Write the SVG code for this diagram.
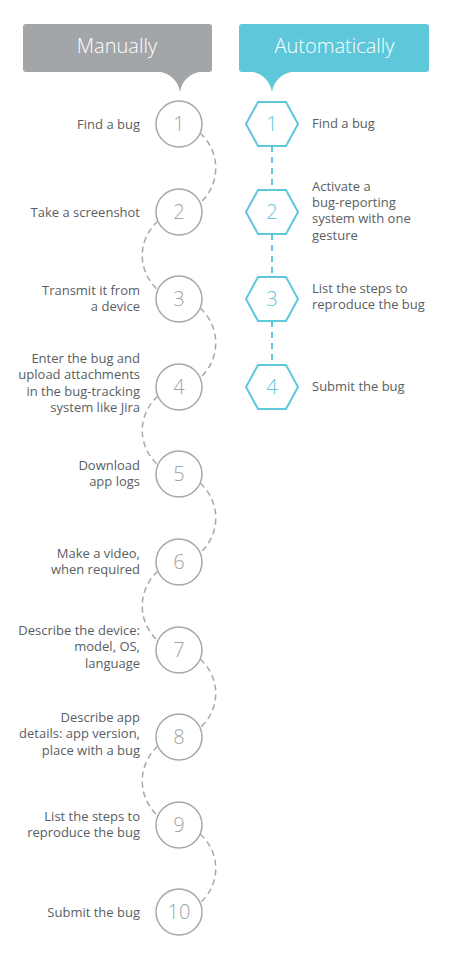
<svg xmlns="http://www.w3.org/2000/svg" width="452" height="960" viewBox="0 0 452 960">
<style>
.lbl{font-family:"Open Sans","Noto Sans","DejaVu Sans",sans-serif;font-size:13px;fill:#595e63}
.l{text-anchor:end}
.hdr{font-family:"Open Sans","Noto Sans","DejaVu Sans",sans-serif;font-size:20px;fill:#ffffff;text-anchor:middle;font-weight:300}
.num{font-family:"Open Sans","Noto Sans","DejaVu Sans",sans-serif;font-size:20px;text-anchor:middle;font-weight:300}
.circ{fill:#ffffff;stroke:#a5a8ab;stroke-width:1.5}
.hex{fill:#ffffff;stroke:#5ec8da;stroke-width:2}
.cn{fill:#a0a3a6}
.hn{fill:#5ec8da}
.gd{fill:none;stroke:#a5a8ab;stroke-width:1.5;stroke-dasharray:6 4}
.cd{fill:none;stroke:#5ec8da;stroke-width:2;stroke-dasharray:6 5}
</style>
<g id="header-manual">
<rect x="23" y="24" width="189" height="48" rx="3" fill="#a3a6a9"/>
<path d="M156,71 C171,73 178,81 180,92 C182,81 189,73 204,71 Z" fill="#a3a6a9"/>
<text class="hdr" x="117" y="53">Manually</text>
</g>
<g id="header-auto">
<rect x="239" y="24" width="190" height="48" rx="3" fill="#5ec8da"/>
<path d="M248,71 C263,73 270,81 272,92 C274,81 281,73 296,71 Z" fill="#5ec8da"/>
<text class="hdr" x="334.5" y="53">Automatically</text>
</g>
<g id="connectors">
<path class="gd" d="M200,133 C221,152 221,184 200,203"/>
<path class="gd" d="M158,221 C137,240 137,271 158,290"/>
<path class="gd" d="M200,308 C221,327 221,359 200,378"/>
<path class="gd" d="M158,396 C137,415 137,446 158,465"/>
<path class="gd" d="M200,483 C221,502 221,534 200,553"/>
<path class="gd" d="M158,571 C137,590 137,622 158,641"/>
<path class="gd" d="M200,659 C221,678 221,709 200,728"/>
<path class="gd" d="M158,746 C137,765 137,797 158,816"/>
<path class="gd" d="M200,834 C221,853 221,884 200,903"/>
<line class="cd" x1="272" y1="146" x2="272" y2="190"/>
<line class="cd" x1="272" y1="234" x2="272" y2="277"/>
<line class="cd" x1="272" y1="321" x2="272" y2="365"/>
</g>
<g id="m1"><circle class="circ" cx="179" cy="124" r="23"/><text class="num cn" x="179" y="131">1</text><text class="lbl l" x="140" y="128.5">Find a bug</text></g>
<g id="m2"><circle class="circ" cx="179" cy="212" r="23"/><text class="num cn" x="179" y="219">2</text><text class="lbl l" x="140" y="216.5">Take a screenshot</text></g>
<g id="m3"><circle class="circ" cx="179" cy="299" r="23"/><text class="num cn" x="179" y="306">3</text><text class="lbl l" x="140" y="294.5">Transmit it from<tspan x="140" y="311">a device</tspan></text></g>
<g id="m4"><circle class="circ" cx="179" cy="387" r="23"/><text class="num cn" x="179" y="394">4</text><text class="lbl l" x="140" y="363">Enter the bug and<tspan x="140" y="379.4">upload attachments</tspan><tspan x="140" y="395.8">in the bug-tracking</tspan><tspan x="140" y="412.2">system like Jira</tspan></text></g>
<g id="m5"><circle class="circ" cx="179" cy="474" r="23"/><text class="num cn" x="179" y="481">5</text><text class="lbl l" x="140" y="469.5">Download<tspan x="140" y="486">app logs</tspan></text></g>
<g id="m6"><circle class="circ" cx="179" cy="562" r="23"/><text class="num cn" x="179" y="569">6</text><text class="lbl l" x="140" y="557.5">Make a video,<tspan x="140" y="574">when required</tspan></text></g>
<g id="m7"><circle class="circ" cx="179" cy="650" r="23"/><text class="num cn" x="179" y="657">7</text><text class="lbl l" x="140" y="635">Describe the device:<tspan x="140" y="651.4">model, OS,</tspan><tspan x="140" y="667.8">language</tspan></text></g>
<g id="m8"><circle class="circ" cx="179" cy="737" r="23"/><text class="num cn" x="179" y="744">8</text><text class="lbl l" x="140" y="722">Describe app<tspan x="140" y="738.4">details: app version,</tspan><tspan x="140" y="754.8">place with a bug</tspan></text></g>
<g id="m9"><circle class="circ" cx="179" cy="825" r="23"/><text class="num cn" x="179" y="832">9</text><text class="lbl l" x="140" y="820.5">List the steps to<tspan x="140" y="837">reproduce the bug</tspan></text></g>
<g id="m10"><circle class="circ" cx="179" cy="912" r="23"/><text class="num cn" x="179" y="919">10</text><text class="lbl l" x="140" y="916.5">Submit the bug</text></g>
<g id="a1"><polygon class="hex" points="246,124 258,102 286,102 298,124 286,146 258,146"/><text class="num hn" x="272" y="131">1</text><text class="lbl" x="312" y="128">Find a bug</text></g>
<g id="a2"><polygon class="hex" points="246,212 258,190 286,190 298,212 286,234 258,234"/><text class="num hn" x="272" y="219">2</text><text class="lbl" x="312" y="190.5">Activate a<tspan x="312" y="206.9">bug-reporting</tspan><tspan x="312" y="223.3">system with one</tspan><tspan x="312" y="239.7">gesture</tspan></text></g>
<g id="a3"><polygon class="hex" points="246,299 258,277 286,277 298,299 286,321 258,321"/><text class="num hn" x="272" y="306">3</text><text class="lbl" x="312" y="292.5">List the steps to<tspan x="312" y="308.9">reproduce the bug</tspan></text></g>
<g id="a4"><polygon class="hex" points="246,387 258,365 286,365 298,387 286,409 258,409"/><text class="num hn" x="272" y="394">4</text><text class="lbl" x="312" y="390.5">Submit the bug</text></g>
</svg>
